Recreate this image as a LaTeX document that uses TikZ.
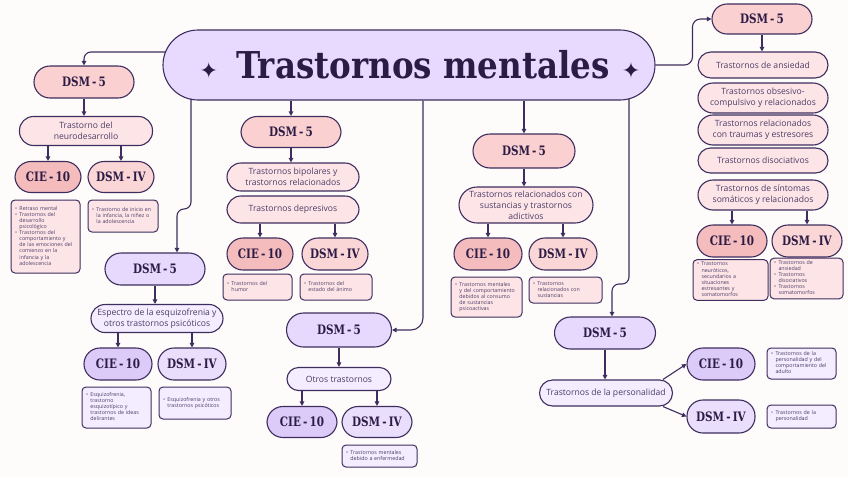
\documentclass[tikz,border=0pt]{standalone}
\usepackage{fontspec}
\setmainfont{Open Sans}
\newfontfamily\titlefont{DejaVu Serif}[FakeStretch=0.88]
\newfontfamily\labfont{DejaVu Serif}[FakeStretch=0.8]
\newfontfamily\starfont{DejaVu Sans}
\usetikzlibrary{arrows.meta}

\definecolor{bgc}{HTML}{FEFCFB}
\definecolor{linec}{HTML}{3E2D5E}
\definecolor{inkc}{HTML}{2B1B45}
\definecolor{subc}{HTML}{4B3C66}
\definecolor{ttlc}{HTML}{E8DAFF}
\definecolor{pkA}{HTML}{FAD0D0}
\definecolor{pkB}{HTML}{F4BCBC}
\definecolor{pkC}{HTML}{FBD6D6}
\definecolor{pkL}{HTML}{FDE5E7}
\definecolor{lvA}{HTML}{E6D9FD}
\definecolor{lvB}{HTML}{DCCBF9}
\definecolor{lvC}{HTML}{E9DEFC}
\definecolor{lvL}{HTML}{F3EDFF}

\newcommand\subtxt{\fontsize{8.6}{11}\selectfont}
\newcommand\notetxt{\fontsize{5.3}{6.1}\selectfont}
\newcommand\dotb{\textbullet}

\begin{document}
\begin{tikzpicture}[x=1pt, y=-1pt,
  conn/.style={draw=linec, line width=1.1pt, -{Triangle[length=4.5pt,width=4.5pt]}},
  pill/.style={draw=linec, line width=1.1pt, rectangle, inner sep=0pt},
  dsmbox/.style={pill, minimum width=100pt, minimum height=32pt, rounded corners=16pt,
    text=inkc, font=\labfont\bfseries\fontsize{13}{13}\selectfont},
  clsbox/.style={dsmbox, minimum width=68pt},
  subbox/.style={pill, minimum width=132pt, minimum height=28pt, rounded corners=14pt,
    align=center, text=subc, font=\subtxt},
  notebox/.style 2 args={draw=linec, line width=1pt, rectangle, rounded corners=4pt,
    inner xsep=4pt, inner ysep=2pt, text width=#1, minimum height=#2, align=left,
    text=subc, font=\notetxt}]

\fill[bgc] (0,0) rectangle (848,477);
\useasboundingbox (0,0) rectangle (848,477);

% title
\node[pill, fill=ttlc, minimum width=492pt, minimum height=70pt, rounded corners=35pt, text=inkc] (title) at (409,65)
  {\hspace*{22pt}{\starfont\fontsize{22}{22}\selectfont ✦}\hspace{18pt}{\titlefont\bfseries\fontsize{37}{37}\selectfont Trastornos mentales}\hspace{12pt}{\starfont\fontsize{22}{22}\selectfont ✦}};

% neurodesarrollo
\node[dsmbox, fill=pkA] (dsmA) at (84,82) {DSM\,-\,5};
\node[subbox, fill=pkL, minimum width=133pt, minimum height=29pt] (subA) at (86,131) {Trastorno del\\neurodesarrollo};
\node[clsbox, fill=pkB, minimum width=66pt, minimum height=31pt] (cieA) at (48,177) {CIE\,-\,10};
\node[clsbox, fill=pkC, minimum width=66pt, minimum height=31pt] (dsmivA) at (121,177) {DSM\,-\,IV};
\node[notebox={61pt}{73pt}, fill=pkL] (notecieA) at (45.5,236.5)
  {\begin{tabular}{@{}l@{\hspace{2.5pt}}l@{}}
  \dotb & Retraso mental\\
  \dotb & Trastornos del\\ & desarrollo\\ & psicológico\\
  \dotb & Trastornos del\\ & comportamiento y\\ & de las emociones del\\ & comienzo en la\\ & infancia y la\\ & adolescencia
  \end{tabular}};
\node[notebox={62pt}{32pt}, fill=pkL] (notedsmA) at (123,216)
  {\begin{tabular}{@{}l@{\hspace{2.5pt}}l@{}}
  \dotb & Trastorno de inicio en\\ & la infancia, la niñez o\\ & la adolescencia
  \end{tabular}};

% bipolares y depresivos
\node[dsmbox, fill=pkA, minimum height=31pt] (dsmB) at (291,132) {DSM\,-\,5};
\node[subbox, fill=pkL] (subB) at (293,177) {Trastornos bipolares y\\trastornos relacionados};
\node[subbox, fill=pkL, minimum height=27pt] (subBB) at (293,209.5) {Trastornos depresivos};
\node[clsbox, fill=pkB, minimum width=66pt] (cieB) at (260,254) {CIE\,-\,10};
\node[clsbox, fill=pkC, minimum width=66pt] (dsmivB) at (335,254) {DSM\,-\,IV};
\node[notebox={61pt}{26pt}, fill=pkL] (notecieB) at (257.5,287)
  {\begin{tabular}{@{}l@{\hspace{2.5pt}}l@{}}
  \dotb & Trastornos del\\ & humor
  \end{tabular}};
\node[notebox={64pt}{26pt}, fill=pkL] (notedsmB) at (336,287)
  {\begin{tabular}{@{}l@{\hspace{2.5pt}}l@{}}
  \dotb & Trastornos del\\ & estado del ánimo
  \end{tabular}};

% esquizofrenia
\node[dsmbox, fill=lvA] (dsmC) at (155,269) {DSM\,-\,5};
\node[subbox, fill=lvL] (subC) at (157,318.5) {Espectro de la esquizofrenia y\\otros trastornos psicóticos};
\node[clsbox, fill=lvB] (cieC) at (118,364) {CIE\,-\,10};
\node[clsbox, fill=lvC] (dsmivC) at (192,364) {DSM\,-\,IV};
\node[notebox={61pt}{41pt}, fill=lvL] (notecieC) at (116.5,407.5)
  {\begin{tabular}{@{}l@{\hspace{2.5pt}}l@{}}
  \dotb & Esquizofrenia,\\ & trastorno\\ & esquizotípico y\\ & trastornos de ideas\\ & delirantes
  \end{tabular}};
\node[notebox={64pt}{32pt}, fill=lvL] (notedsmC) at (195,403)
  {\begin{tabular}{@{}l@{\hspace{2.5pt}}l@{}}
  \dotb & Esquizofrenia y otros\\ & trastornos psicóticos
  \end{tabular}};

% sustancias
\node[dsmbox, fill=pkA, minimum width=102pt, minimum height=34pt, rounded corners=17pt] (dsmD) at (524,151) {DSM\,-\,5};
\node[subbox, fill=pkL, minimum width=134pt, minimum height=36pt, rounded corners=18pt] (subD) at (526,205)
  {Trastornos relacionados con\\sustancias y trastornos\\adictivos};
\node[clsbox, fill=pkB] (cieD) at (488,254) {CIE\,-\,10};
\node[clsbox, fill=pkC] (dsmivD) at (563,254) {DSM\,-\,IV};
\node[notebox={63pt}{40pt}, fill=pkL] (notecieD) at (486.5,297)
  {\begin{tabular}{@{}l@{\hspace{2.5pt}}l@{}}
  \dotb & Trastornos mentales\\ & y del comportamiento\\ & debidos al consumo\\ & de sustancias\\ & psicoactivas
  \end{tabular}};
\node[notebox={65pt}{26pt}, fill=pkL] (notedsmD) at (565.5,290)
  {\begin{tabular}{@{}l@{\hspace{2.5pt}}l@{}}
  \dotb & Trastornos\\ & relacionados con\\ & sustancias
  \end{tabular}};

% otros
\node[dsmbox, fill=lvA, minimum width=105pt, minimum height=34pt, rounded corners=17pt] (dsmE) at (339,330) {DSM\,-\,5};
\node[subbox, fill=lvL, minimum width=104pt, minimum height=23pt, rounded corners=11.5pt] (subE) at (339,379) {Otros trastornos};
\node[clsbox, fill=lvB, minimum width=70pt, minimum height=31pt] (cieE) at (302,422) {CIE\,-\,10};
\node[clsbox, fill=lvC, minimum width=70pt, minimum height=31pt] (dsmivE) at (377,422) {DSM\,-\,IV};
\node[notebox={67pt}{22pt}, fill=lvL] (notedsmE) at (379.5,456)
  {\begin{tabular}{@{}l@{\hspace{2.5pt}}l@{}}
  \dotb & Trastornos mentales\\ & debido a enfermedad
  \end{tabular}};

% personalidad
\node[dsmbox, fill=lvA, minimum width=101pt] (dsmF) at (605,333) {DSM\,-\,5};
\node[subbox, fill=lvL, minimum width=133pt, minimum height=26pt, rounded corners=13pt] (subF) at (606,393) {Trastornos de la personalidad};
\node[clsbox, fill=lvB] (cieF) at (721,364) {CIE\,-\,10};
\node[clsbox, fill=lvC, minimum height=33pt] (dsmivF) at (721,416.5) {DSM\,-\,IV};
\node[notebox={61pt}{31pt}, fill=lvL] (notecieF) at (801.5,363.5)
  {\begin{tabular}{@{}l@{\hspace{2.5pt}}l@{}}
  \dotb & Trastornos de la\\ & personalidad y del\\ & comportamiento del\\ & adulto
  \end{tabular}};
\node[notebox={61pt}{23pt}, fill=lvL] (notedsmF) at (801.5,416.5)
  {\begin{tabular}{@{}l@{\hspace{2.5pt}}l@{}}
  \dotb & Trastornos de la\\ & personalidad
  \end{tabular}};

% ansiedad y otros
\node[dsmbox, fill=pkA, minimum height=30pt, rounded corners=15pt] (dsmG) at (762,19) {DSM\,-\,5};
\node[subbox, fill=pkL, minimum width=130pt, minimum height=26pt, rounded corners=13pt] (subGa) at (763,65) {Trastornos de ansiedad};
\node[subbox, fill=pkL, minimum width=130pt, minimum height=30pt, rounded corners=15pt] (subGb) at (763,98) {Trastornos obsesivo-\\compulsivo y relacionados};
\node[subbox, fill=pkL, minimum width=130pt, minimum height=30pt, rounded corners=15pt] (subGc) at (763,130) {Trastornos relacionados\\con traumas y estresores};
\node[subbox, fill=pkL, minimum width=130pt, minimum height=25pt, rounded corners=12.5pt] (subGd) at (763,160.5) {Trastornos disociativos};
\node[subbox, fill=pkL, minimum width=130pt, minimum height=30pt, rounded corners=15pt] (subGe) at (763,195) {Trastornos de síntomas\\somáticos y relacionados};
\node[clsbox, fill=pkB, minimum width=70pt] (cieG) at (732,241) {CIE\,-\,10};
\node[clsbox, fill=pkC, minimum width=70pt] (dsmivG) at (807,241) {DSM\,-\,IV};
\node[notebox={67pt}{40pt}, fill=pkL] (notecieG) at (730.5,280)
  {\begin{tabular}{@{}l@{\hspace{2.5pt}}l@{}}
  \dotb & Trastornos\\ & neuróticos,\\ & secundarios a\\ & situaciones\\ & estresantes y\\ & somatomorfos
  \end{tabular}};
\node[notebox={65pt}{37pt}, fill=pkL] (notedsmG) at (806.5,278.5)
  {\begin{tabular}{@{}l@{\hspace{2.5pt}}l@{}}
  \dotb & Trastornos de\\ & ansiedad\\
  \dotb & Trastornos\\ & disociativos\\
  \dotb & Trastornos\\ & somatomorfos
  \end{tabular}};

% connectors from the title
\draw[conn, rounded corners=7pt] ([shift={(3,-13)}]title.west) -| (dsmA.north);
\draw[conn] (dsmB.north |- title.south) -- (dsmB.north);
\draw[conn, rounded corners=7pt] ([xshift=-218pt, yshift=2pt]title.south) -- (191,209) -- (177,209) -- ([xshift=22pt]dsmC.north);
\draw[conn] (dsmD.north |- title.south) -- (dsmD.north);
\draw[conn, rounded corners=12pt] ([xshift=14pt]title.south) |- (dsmE.east);
\draw[conn, rounded corners=7pt] ([xshift=220pt, yshift=2pt]title.south) -- (629,284) -- (612,284) -- ([xshift=7pt]dsmF.north);
\draw[conn, rounded corners=8pt] (title.east) -| ([xshift=-19pt]dsmG.west) -- (dsmG.west);

% connectors inside the groups
\draw[conn] (dsmA.south) -- (dsmA.south |- subA.north);
\draw[conn] (subA.south -| cieA.north) -- (cieA.north);
\draw[conn] (subA.south -| dsmivA.north) -- (dsmivA.north);

\draw[conn] (dsmB.south) -- (dsmB.south |- subB.north);
\draw[conn] (subBB.south -| cieB.north) -- (cieB.north);
\draw[conn] (subBB.south -| dsmivB.north) -- (dsmivB.north);

\draw[conn] (dsmC.south) -- (dsmC.south |- subC.north);
\draw[conn] (subC.south -| cieC.north) -- (cieC.north);
\draw[conn] (subC.south -| dsmivC.north) -- (dsmivC.north);

\draw[conn] (dsmD.south) -- (dsmD.south |- subD.north);
\draw[conn] (subD.south -| cieD.north) -- (cieD.north);
\draw[conn] (subD.south -| dsmivD.north) -- (dsmivD.north);

\draw[conn] (dsmE.south) -- (dsmE.south |- subE.north);
\draw[conn] (subE.south -| cieE.north) -- (cieE.north);
\draw[conn] (subE.south -| dsmivE.north) -- (dsmivE.north);

\draw[conn] (dsmF.south) -- (dsmF.south |- subF.north);
\draw[conn] ([xshift=57pt]subF.north) -- (cieF.west);
\draw[conn] ([xshift=57pt]subF.south) -- (dsmivF.west);

\draw[conn] (dsmG.south) -- (dsmG.south |- subGa.north);
\draw[conn] (subGe.south -| cieG.north) -- (cieG.north);
\draw[conn] (subGe.south -| dsmivG.north) -- (dsmivG.north);
\end{tikzpicture}
\end{document}
